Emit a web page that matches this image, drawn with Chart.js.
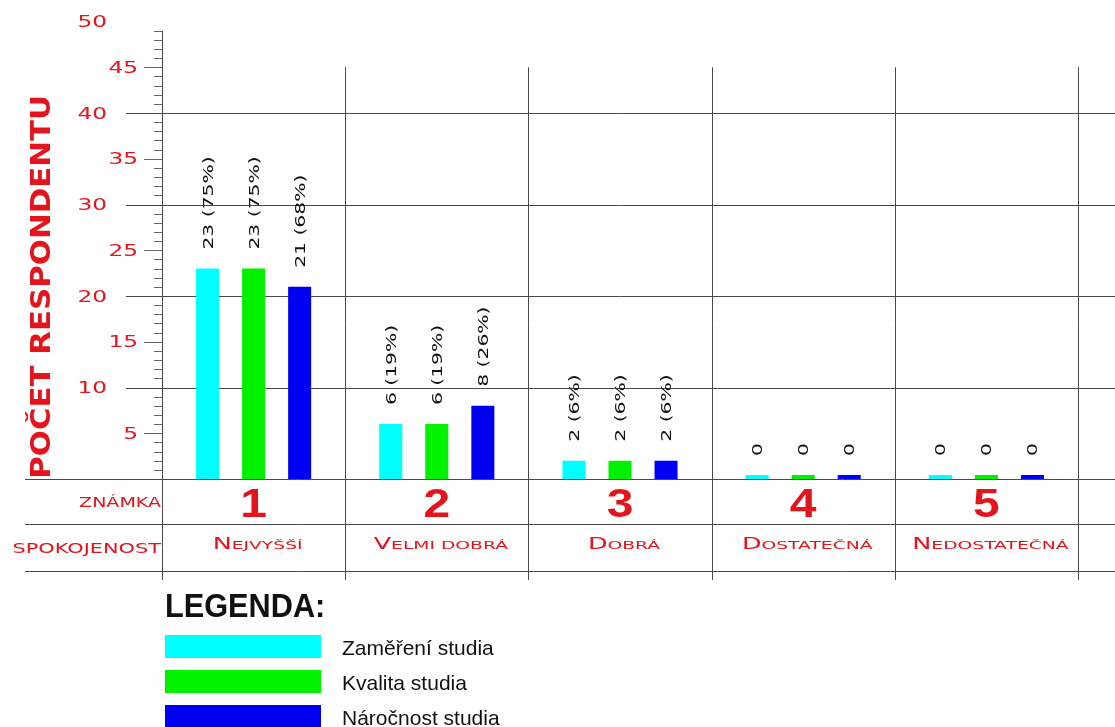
<!DOCTYPE html>
<html>
<head>
<meta charset="utf-8">
<script src="https://cdn.jsdelivr.net/npm/chart.js@4.4.1/dist/chart.umd.min.js"></script>
<style>
  html, body { margin: 0; padding: 0; background: #fff; overflow: hidden; }
  canvas { display: block; }
</style>
</head>
<body>
<canvas id="chart" width="1115" height="727"></canvas>
<script>
// Data
const grades = ['1', '2', '3', '4', '5'];
const satisfaction = ['Nejvyšší', 'Velmi dobrá', 'Dobrá', 'Dostatečná', 'Nedostatečná'];
const seriesNames = ['Zaměření studia', 'Kvalita studia', 'Náročnost studia'];
const zamereni = [23, 6, 2, 0, 0];
const kvalita = [23, 6, 2, 0, 0];
const narocnost = [21, 8, 2, 0, 0];
const zamereniPct = [75, 19, 6, 0, 0];
const kvalitaPct = [75, 19, 6, 0, 0];
const narocnostPct = [68, 26, 6, 0, 0];
const yMajorTicks = [5, 10, 15, 20, 25, 30, 35, 40, 45, 50];
const colors = ['#00ffff', '#00f000', '#0000f0'];

const RED = '#e3141b';
const LINE = '#4a4a4a';
const WIDE = '"DejaVu Sans"';

// draw horizontally stretched text (imitates the extended font)
function wideText(ctx, text, x, y, font, stretch, align) {
    ctx.save();
    ctx.translate(x, y);
    ctx.scale(stretch, 1);
    ctx.font = font;
    ctx.textAlign = align || 'left';
    ctx.textBaseline = 'alphabetic';
    ctx.fillText(text, 0, 0);
    ctx.restore();
}

// small caps: first letter bigger, rest uppercase smaller
function smallCaps(ctx, text, cx, y, stretch) {
    const first = text[0];
    const rest = text.slice(1).toUpperCase();
    ctx.save();
    ctx.font = `15px ${WIDE}`;
    const w1 = ctx.measureText(first).width * stretch;
    ctx.font = `11px ${WIDE}`;
    const w2 = ctx.measureText(rest).width * stretch;
    const x0 = cx - (w1 + w2) / 2;
    ctx.restore();
    wideText(ctx, first, x0, y, `15px ${WIDE}`, stretch, 'left');
    wideText(ctx, rest, x0 + w1, y, `11px ${WIDE}`, stretch, 'left');
}

function hLine(ctx, x1, x2, y) {
    ctx.beginPath();
    ctx.moveTo(x1, Math.round(y) + 0.5);
    ctx.lineTo(x2, Math.round(y) + 0.5);
    ctx.stroke();
}
function vLine(ctx, x, y1, y2) {
    ctx.beginPath();
    ctx.moveTo(Math.round(x) + 0.5, y1);
    ctx.lineTo(Math.round(x) + 0.5, y2);
    ctx.stroke();
}

// grid, axis ticks and the table under the chart
const tablePlugin = {
    id: 'tablePlugin',
    beforeDatasetsDraw(chart) {
        const { ctx, chartArea, scales: { x, y } } = chart;
        const W = chart.width;
        const base = y.getPixelForValue(0);
        const row1 = base + 45, row2 = base + 92, bottomEnd = base + 101;
        const half = (x.getPixelForValue(1) - x.getPixelForValue(0)) / 2;

        ctx.save();
        ctx.strokeStyle = LINE;
        ctx.lineWidth = 1;

        // horizontal grid lines at tens
        [10, 20, 30, 40].forEach(v => hLine(ctx, chartArea.left - 36, W, y.getPixelForValue(v)));
        hLine(ctx, 25, W, base);
        hLine(ctx, 25, W, row1);
        hLine(ctx, 25, W, row2);

        // y axis line and minor ticks
        vLine(ctx, chartArea.left, y.getPixelForValue(49), bottomEnd);
        ctx.strokeStyle = '#666';
        for (let v = 1; v < 50; v++) {
            if (v % 10 === 0) continue;
            const len = v % 5 === 0 ? 18 : 8;
            hLine(ctx, chartArea.left - len, chartArea.left, y.getPixelForValue(v));
        }

        // vertical column separators
        ctx.strokeStyle = LINE;
        grades.forEach((g, i) => {
            vLine(ctx, x.getPixelForValue(i) + half, y.getPixelForValue(45), bottomEnd);
        });

        // y tick labels
        ctx.fillStyle = RED;
        yMajorTicks.forEach(v => {
            const py = y.getPixelForValue(v) + 5.5;
            const right = v % 10 === 0 ? chartArea.left - 55 : chartArea.left - 24;
            wideText(ctx, String(v), right, py, `15px ${WIDE}`, 1.55, 'right');
        });

        // axis title
        ctx.save();
        ctx.translate(50, (y.getPixelForValue(0) + y.getPixelForValue(42)) / 2);
        ctx.rotate(-Math.PI / 2);
        wideText(ctx, 'POČET RESPONDENTU', 0, 0, `bold 27px ${WIDE}`, 1.14, 'center');
        ctx.restore();

        // table row headers
        wideText(ctx, 'ZNÁMKA', chartArea.left - 1, base + 28, `14px ${WIDE}`, 1.36, 'right');
        wideText(ctx, 'SPOKOJENOST', chartArea.left - 1, base + 74, `14px ${WIDE}`, 1.49, 'right');

        // grade numbers and satisfaction names
        grades.forEach((g, i) => {
            const cx = x.getPixelForValue(i);
            wideText(ctx, g, cx, base + 38, `bold 40px "Liberation Sans"`, 1.2, 'center');
            smallCaps(ctx, satisfaction[i], cx + 4, base + 70, 1.7);
        });
        ctx.restore();
    },
    afterDatasetsDraw(chart) {
        const { ctx, chartArea } = chart;
        const pcts = [zamereniPct, kvalitaPct, narocnostPct];
        ctx.save();
        ctx.fillStyle = '#111';
        chart.data.datasets.forEach((ds, di) => {
            chart.getDatasetMeta(di).data.forEach((bar, i) => {
                const v = ds.data[i];
                const label = v === 0 ? '0' : `${v} (${pcts[di][i]}%)`;
                ctx.save();
                ctx.translate(bar.x + 5, bar.y - 19);
                ctx.rotate(-Math.PI / 2);
                wideText(ctx, label, 0, 0, `14.5px ${WIDE}`, 1.4, 'left');
                ctx.restore();
            });
        });

        // legend
        const lx = chartArea.left + 3;
        wideText(ctx, 'LEGENDA:', lx, 617, 'bold 33px "Liberation Sans"', 0.93, 'left');
        chart.data.datasets.forEach((ds, di) => {
            const top = 635 + di * 35;
            ctx.fillStyle = ds.backgroundColor;
            ctx.fillRect(lx, top, 156, 23);
            ctx.fillStyle = '#111';
            ctx.font = '21px "Liberation Sans"';
            ctx.textAlign = 'left';
            ctx.textBaseline = 'alphabetic';
            ctx.fillText(ds.label, lx + 177, top + 20);
        });
        ctx.restore();
    }
};

new Chart(document.getElementById('chart'), {
    type: 'bar',
    data: {
        labels: grades,
        datasets: [
            { label: seriesNames[0], data: zamereni, backgroundColor: colors[0] },
            { label: seriesNames[1], data: kvalita, backgroundColor: colors[1] },
            { label: seriesNames[2], data: narocnost, backgroundColor: colors[2] }
        ]
    },
    options: {
        responsive: false,
        devicePixelRatio: 1,
        animation: false,
        layout: { padding: { left: 162, right: 37, top: 21.5, bottom: 248 } },
        datasets: {
            bar: { categoryPercentage: 0.754, barPercentage: 0.5, minBarLength: 4, borderWidth: 0 }
        },
        scales: {
            x: { display: false },
            y: { display: false, min: 0, max: 50 }
        },
        plugins: {
            legend: { display: false },
            tooltip: { enabled: false }
        }
    },
    plugins: [tablePlugin]
});
</script>
</body>
</html>
